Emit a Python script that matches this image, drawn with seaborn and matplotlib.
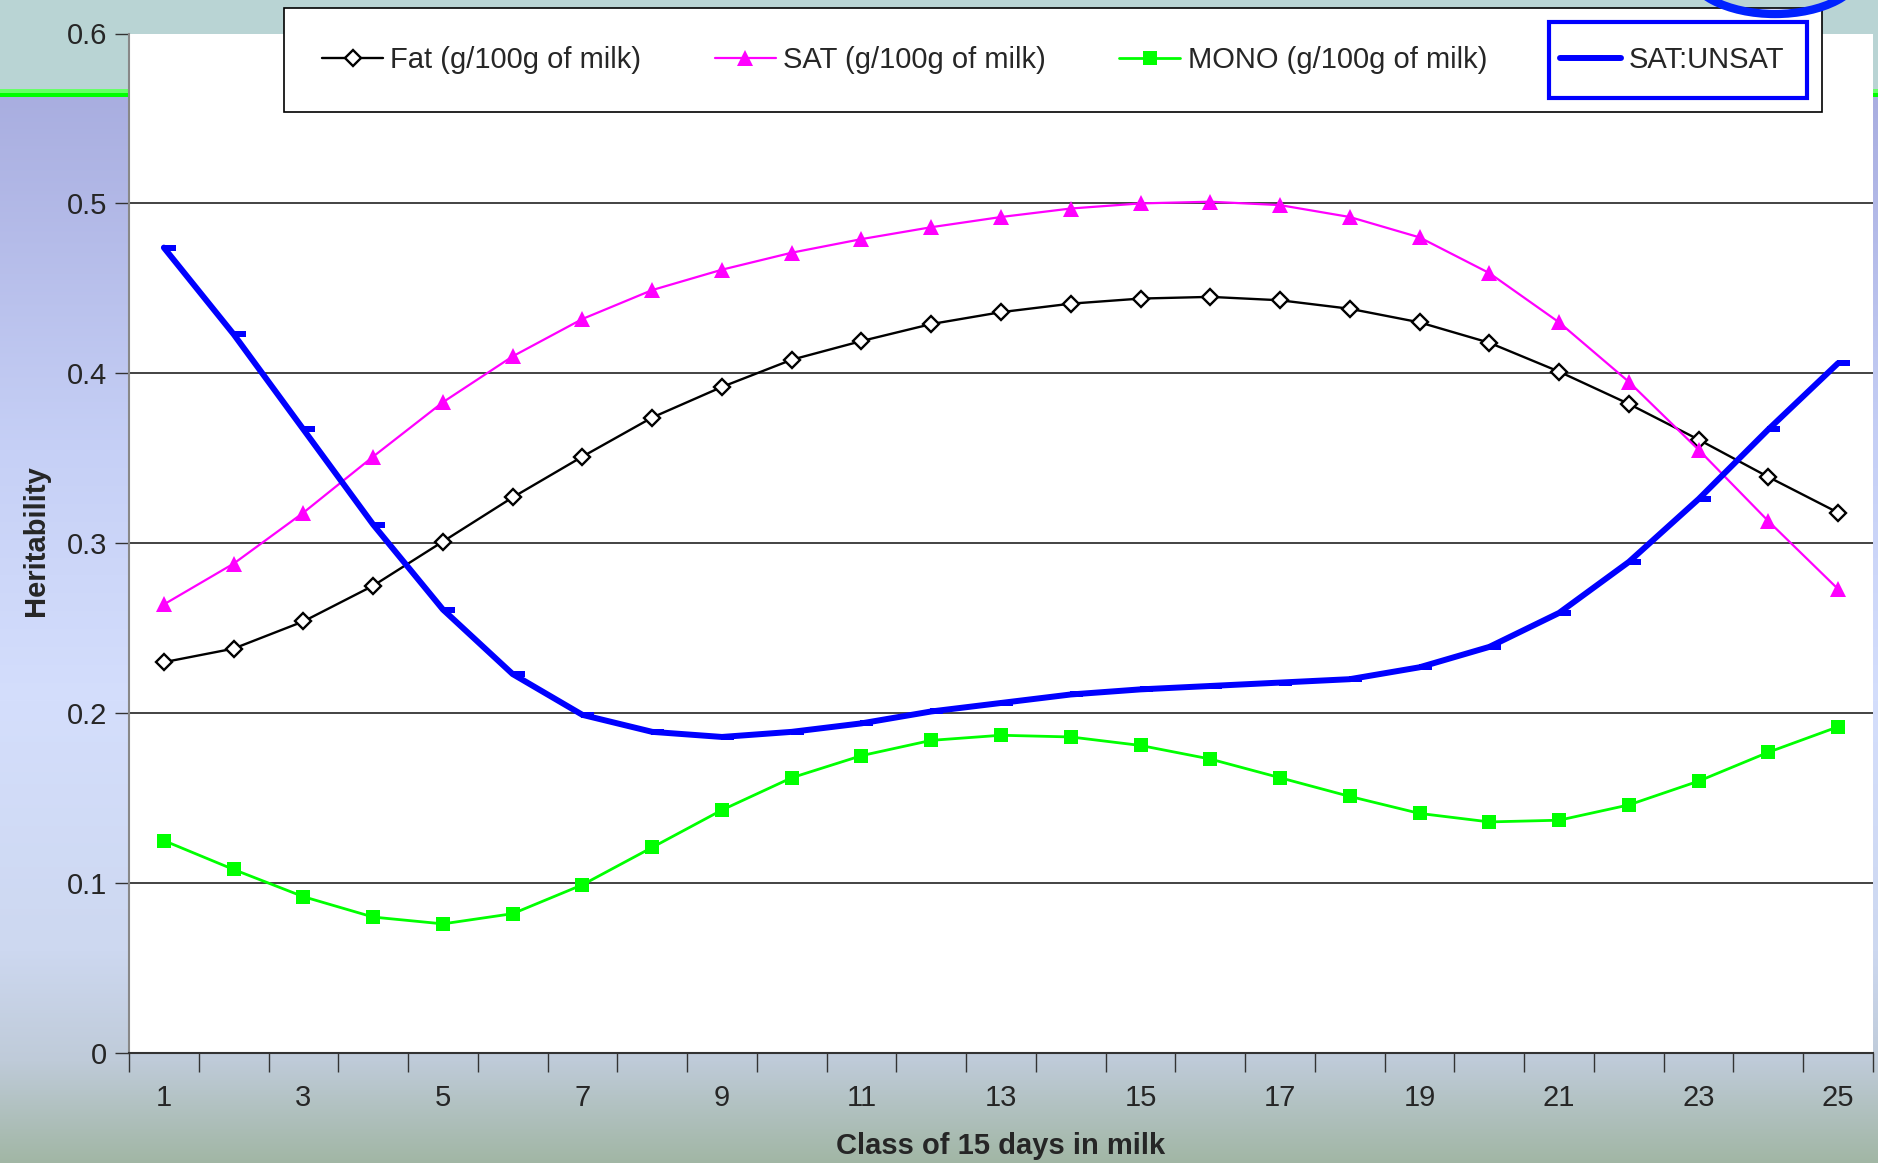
import numpy as np
import pandas as pd
import seaborn as sns
import matplotlib
matplotlib.use("Agg")
import matplotlib.pyplot as plt
from matplotlib.path import Path
from matplotlib import patches

# ---------------- data ----------------
classes = list(range(1, 26))
fat = [0.230, 0.238, 0.254, 0.275, 0.301, 0.327, 0.351, 0.374, 0.392, 0.408,
       0.419, 0.429, 0.436, 0.441, 0.444, 0.445, 0.443, 0.438, 0.430, 0.418,
       0.401, 0.382, 0.361, 0.339, 0.318]
sat = [0.264, 0.288, 0.318, 0.351, 0.383, 0.410, 0.432, 0.449, 0.461, 0.471,
       0.479, 0.486, 0.492, 0.497, 0.500, 0.501, 0.499, 0.492, 0.480, 0.459,
       0.430, 0.395, 0.355, 0.313, 0.273]
mono = [0.125, 0.108, 0.092, 0.080, 0.076, 0.082, 0.099, 0.121, 0.143, 0.162,
        0.175, 0.184, 0.187, 0.186, 0.181, 0.173, 0.162, 0.151, 0.141, 0.136,
        0.137, 0.146, 0.160, 0.177, 0.192]
sat_unsat = [0.474, 0.423, 0.367, 0.311, 0.261, 0.223, 0.199, 0.189, 0.186, 0.189,
             0.194, 0.201, 0.206, 0.211, 0.214, 0.216, 0.218, 0.220, 0.227, 0.239,
             0.259, 0.289, 0.326, 0.367, 0.406]
series_labels = ["Fat (g/100g of milk)", "SAT (g/100g of milk)",
                 "MONO (g/100g of milk)", "SAT:UNSAT"]
x_tick_labels = [1, 3, 5, 7, 9, 11, 13, 15, 17, 19, 21, 23, 25]
y_ticks = [0, 0.1, 0.2, 0.3, 0.4, 0.5, 0.6]
y_tick_labels = ["0", "0.1", "0.2", "0.3", "0.4", "0.5", "0.6"]

# ---------------- style ----------------
sns.set_style("white")
plt.rcParams["font.family"] = ["Liberation Sans", "DejaVu Sans"]

W, H = 1878, 1163
fig = plt.figure(figsize=(W / 100, H / 100), dpi=100)

# background gradient (slide background)
bg = fig.add_axes([0, 0, 1, 1], zorder=-10)
stops_y = [0, 88, 89, 92, 93, 96, 97, 450, 700, 950, 1060, 1163]
stops_c = ["#b9d4d4", "#b9d4d4", "#66ff66", "#66ff66", "#00ff00", "#00ff00",
           "#a9aee0", "#c6d0f6", "#d4defc", "#cdd8f0", "#bfcbd9", "#a1b6a4"]
rgb = np.array([matplotlib.colors.to_rgb(c) for c in stops_c])
yy = np.arange(H)
grad = np.stack([np.interp(yy, stops_y, rgb[:, k]) for k in range(3)], axis=-1)
bg.imshow(grad[:, None, :], aspect="auto", extent=[0, 1, 0, 1], origin="upper")
bg.set_axis_off()

ax = fig.add_axes([129 / W, (H - 1053) / H, (1873 - 129) / W, (1053 - 33.5) / H])
ax.set_facecolor("white")

dash_marker = Path([(-0.1, -0.24), (1, -0.24), (1, 0.24), (-0.1, 0.24), (-0.1, -0.24)],
                   [Path.MOVETO, Path.LINETO, Path.LINETO, Path.LINETO, Path.CLOSEPOLY])

sns.lineplot(x=classes, y=fat, ax=ax, color="black", linewidth=1.7, marker="D",
             markersize=8, markerfacecolor="white", markeredgecolor="black",
             markeredgewidth=1.7, label=series_labels[0], zorder=3)
sns.lineplot(x=classes, y=sat, ax=ax, color="#ff00ff", linewidth=1.6, marker="^",
             markersize=12, markerfacecolor="#ff00ff", markeredgecolor="#ff00ff",
             markeredgewidth=0, label=series_labels[1], zorder=3)
sns.lineplot(x=classes, y=mono, ax=ax, color="#00ff00", linewidth=2.0, marker="s",
             markersize=10, markerfacecolor="#00ff00", markeredgecolor="#00ff00",
             markeredgewidth=0, label=series_labels[2], zorder=3)
sns.lineplot(x=classes, y=sat_unsat, ax=ax, color="#0000ff", linewidth=4.3, marker=dash_marker,
             markersize=17, markerfacecolor="#0000ff", markeredgewidth=0,
             label=series_labels[3], zorder=4)

ax.set_xlim(0.5, 25.5)
ax.set_ylim(0, 0.6)

# x ticks: boundaries as minor ticks, labels on odd classes
ax.set_xticks(x_tick_labels)
ax.set_xticklabels([str(v) for v in x_tick_labels], fontsize=21)
ax.set_xticks(np.arange(0.5, 26, 1.0), minor=True)
ax.tick_params(axis="x", which="major", length=0, pad=22)
ax.tick_params(axis="x", which="minor", length=14, width=1, color="#333333", direction="out",
               bottom=True)
ax.set_yticks(y_ticks)
ax.set_yticklabels(y_tick_labels, fontsize=21)
ax.tick_params(axis="y", which="major", length=10, width=1, color="#333333",
               direction="out", left=True, pad=6)

ax.yaxis.grid(True, color="#222222", linewidth=1.2)
ax.xaxis.grid(False)
for gl in ax.get_ygridlines():
    if abs(gl.get_ydata()[0] - 0.6) < 1e-9 or abs(gl.get_ydata()[0]) < 1e-9:
        gl.set_visible(False)
ax.set_axisbelow(True)

for s in ["top", "right"]:
    ax.spines[s].set_visible(False)
ax.spines["left"].set_color("#888888")
ax.spines["left"].set_linewidth(1.5)
ax.spines["bottom"].set_color("#333333")
ax.spines["bottom"].set_linewidth(1.5)

ax.set_xlabel("")
ax.set_ylabel("")
fig.text(36 / W, 1 - 541 / H, "Heritability", rotation=90, ha="center", va="center",
         fontsize=21, fontweight="bold")
fig.text((129 + 1873) / 2 / W, 1 - 1146 / H, "Class of 15 days in milk", ha="center",
         va="center", fontsize=21, fontweight="bold")

handles, labels = ax.get_legend_handles_labels()
ax.get_legend().remove()
leg = fig.legend(handles, labels, loc="center", ncol=4, mode="expand",
                 bbox_to_anchor=(284 / W, 1 - 114 / H, (1822 - 284) / W, 108 / H),
                 bbox_transform=fig.transFigure, fontsize=21, frameon=True,
                 fancybox=False, shadow=False, framealpha=1, edgecolor="black",
                 handlelength=2.1, handletextpad=0.25, borderpad=1.3, columnspacing=1.5,
                 borderaxespad=0)
leg.get_frame().set_linewidth(1.2)
leg.set_zorder(5)

# decorative blue arc (top right of slide), drawn above the legend frame
arc = patches.Arc((1775 / W, 1 + 32 / H), 175 / W, 92 / H, theta1=180, theta2=360,
                  transform=fig.transFigure, edgecolor="#0022ff", linewidth=6, zorder=15)
fig.add_artist(arc)

rect = patches.Rectangle((1549 / W, 1 - 98 / H), (1807 - 1549) / W, (98 - 22) / H,
                         transform=fig.transFigure, fill=False, edgecolor="#0000ff",
                         linewidth=3, zorder=20)
fig.add_artist(rect)

fig.savefig("out.png", dpi=100)
